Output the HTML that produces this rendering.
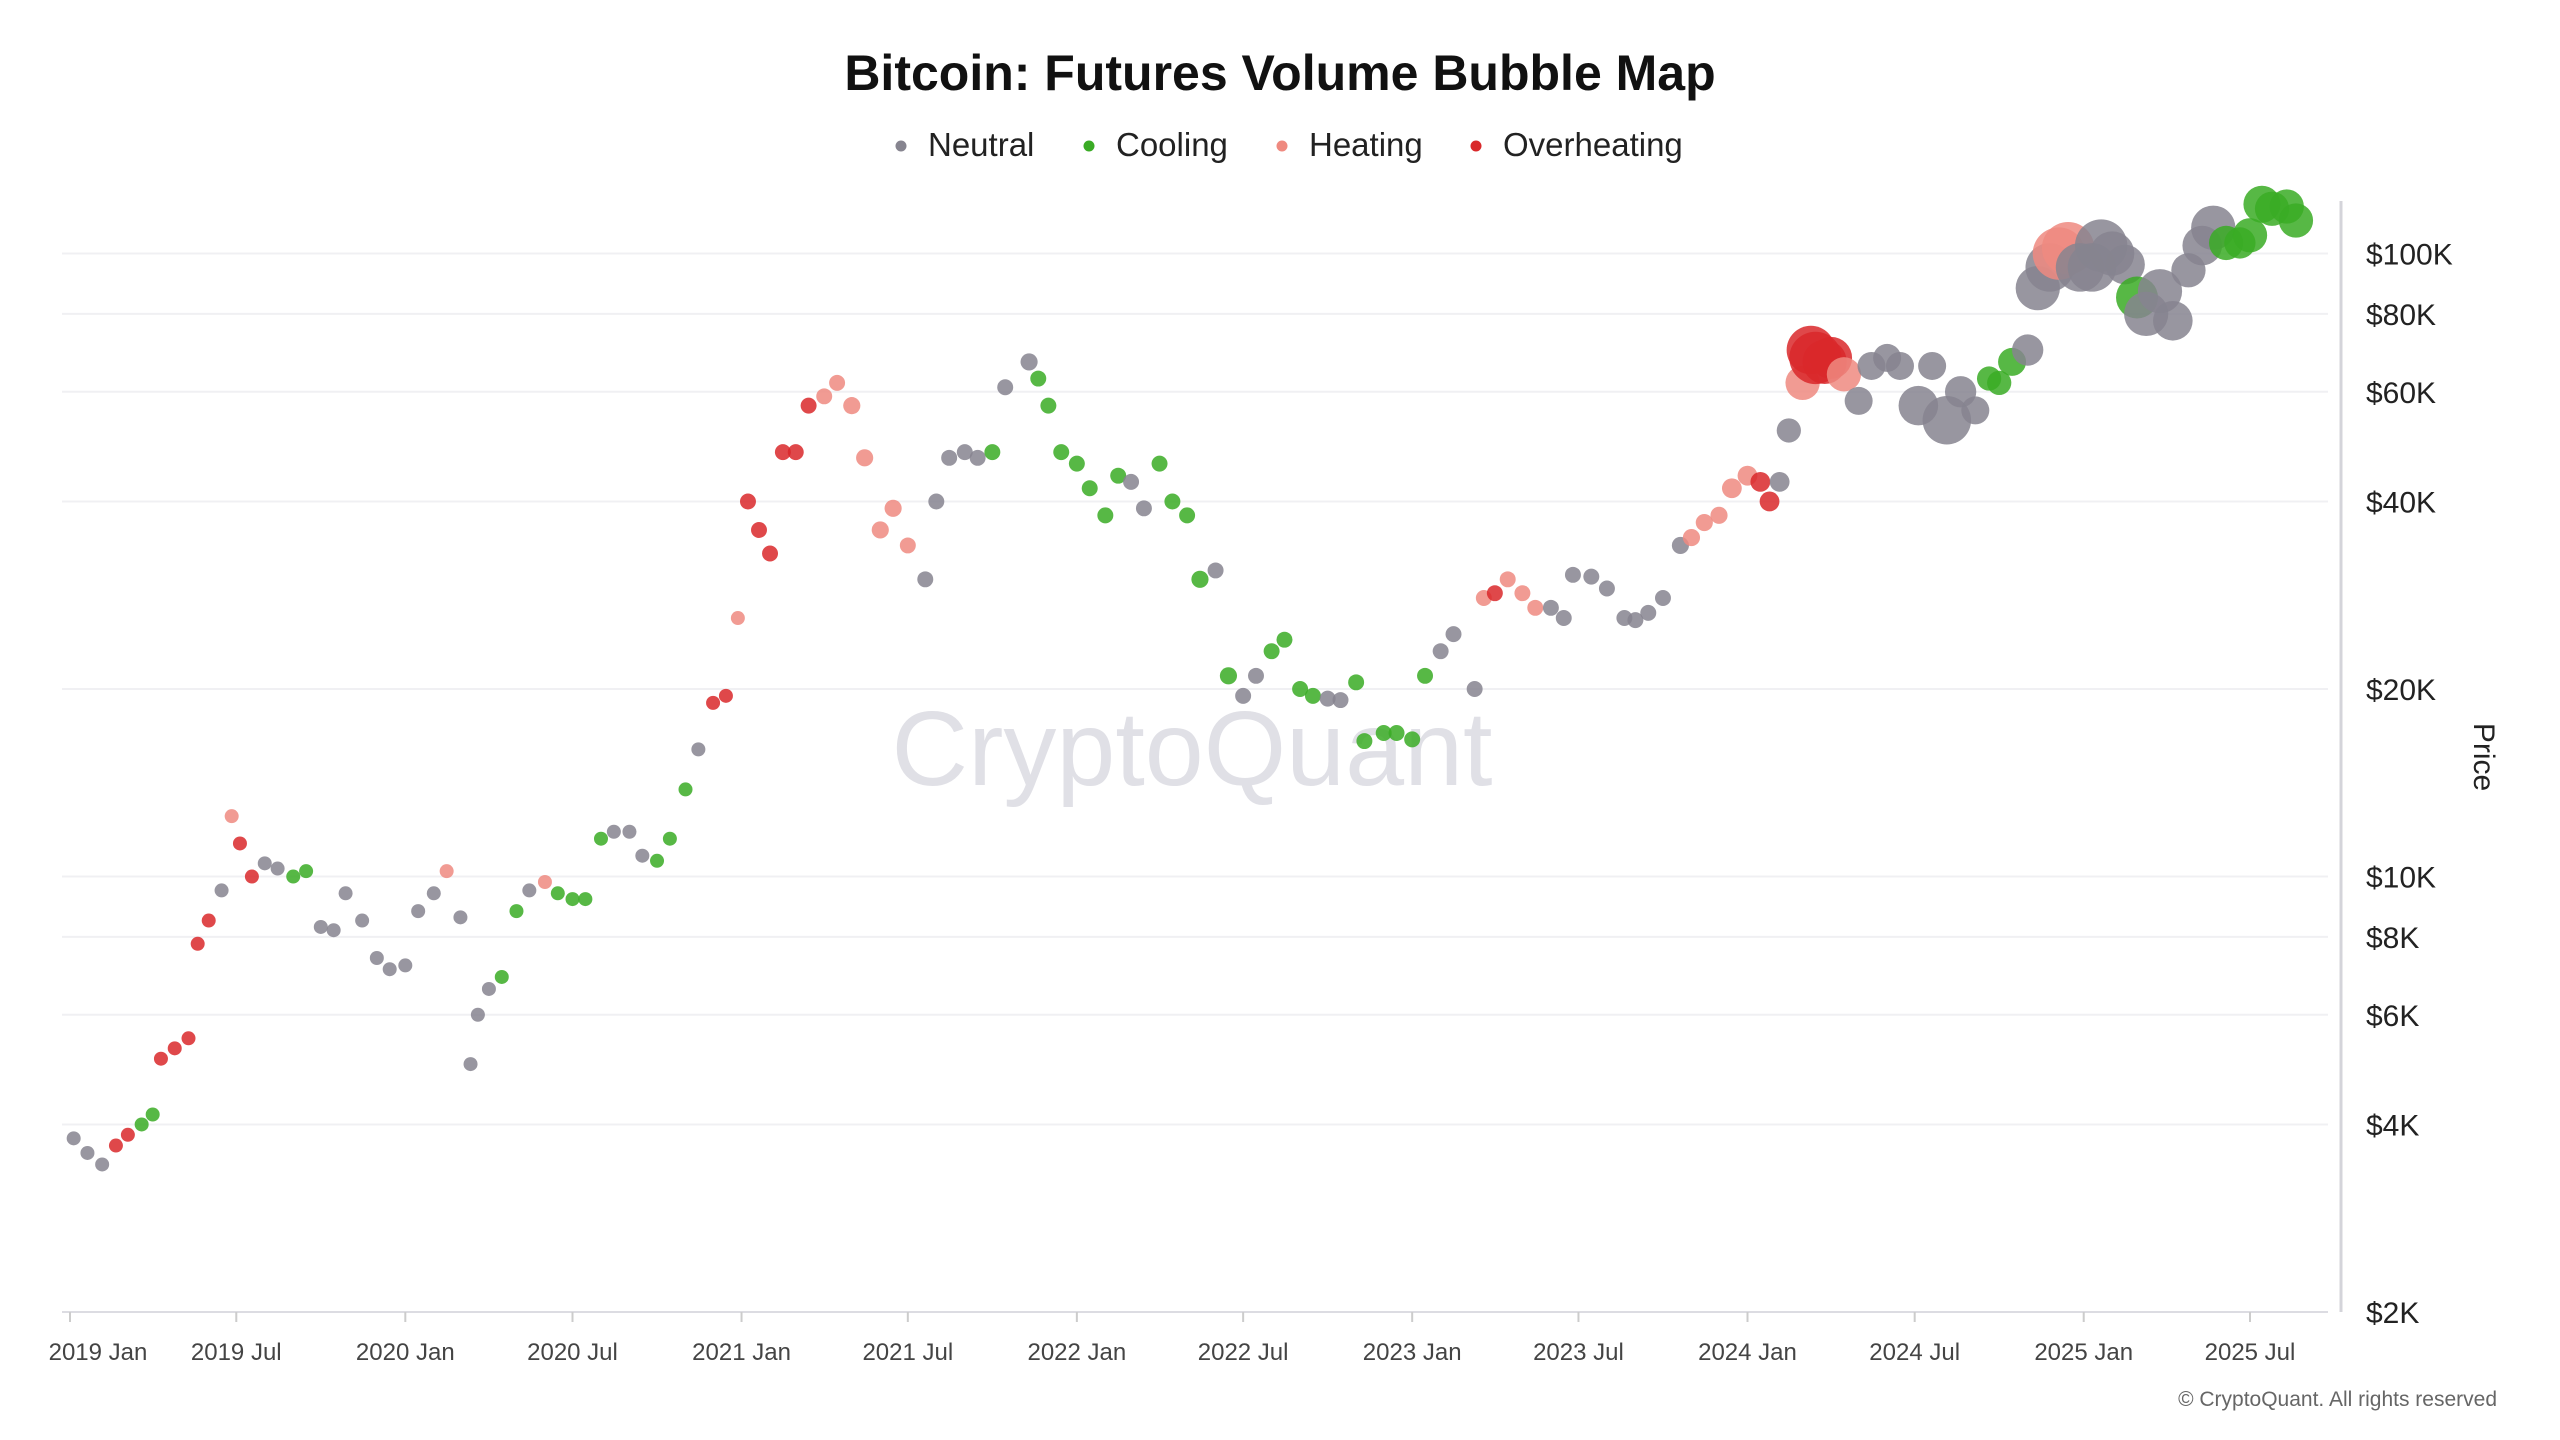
<!DOCTYPE html>
<html><head><meta charset="utf-8"><title>Bitcoin: Futures Volume Bubble Map</title>
<style>
html,body{margin:0;padding:0;background:#fff;}
body{width:2560px;height:1440px;overflow:hidden;font-family:"Liberation Sans",sans-serif;}
svg{display:block;}
</style></head>
<body>
<svg id="chart" width="2560" height="1440" viewBox="0 0 2560 1440" xmlns="http://www.w3.org/2000/svg">
  <text x="1280" y="90" text-anchor="middle" font-size="50" font-weight="bold" fill="#111">Bitcoin: Futures Volume Bubble Map</text>
  <g font-size="33" fill="#222">
    <g><circle cx="901" cy="146" r="5.5" fill="#86848f"/><text x="928" y="156">Neutral</text></g>
    <g><circle cx="1089" cy="146" r="5.5" fill="#3aab25"/><text x="1116" y="156">Cooling</text></g>
    <g><circle cx="1282" cy="146" r="5.5" fill="#ef8a80"/><text x="1309" y="156">Heating</text></g>
    <g><circle cx="1476" cy="146" r="5.5" fill="#d9282a"/><text x="1503" y="156">Overheating</text></g>
  </g>
  <g id="grid"></g>
  <text x="1192" y="785" text-anchor="middle" font-size="106" fill="#e0e0e6">CryptoQuant</text>
  <g id="bubbles"></g>
  <g id="xaxis"></g>
  <g id="yaxis"></g>
  <text transform="translate(2474,757) rotate(90)" text-anchor="middle" font-size="30" fill="#222">Price</text>
  <text x="2497" y="1406" text-anchor="end" font-size="21" fill="#666">© CryptoQuant. All rights reserved</text>
</svg>
<script>
const dates = ["2019-01-05","2019-01-20","2019-02-05","2019-02-20","2019-03-05","2019-03-20","2019-04-01","2019-04-10","2019-04-25","2019-05-10","2019-05-20","2019-06-01","2019-06-15","2019-06-26","2019-07-05","2019-07-18","2019-08-01","2019-08-15","2019-09-01","2019-09-15","2019-10-01","2019-10-15","2019-10-28","2019-11-15","2019-12-01","2019-12-15",
"2020-01-01","2020-01-15","2020-02-01","2020-02-15","2020-03-01","2020-03-12","2020-03-20","2020-04-01","2020-04-15","2020-05-01","2020-05-15","2020-06-01","2020-06-15","2020-07-01","2020-07-15","2020-08-01","2020-08-15","2020-09-01","2020-09-15","2020-10-01","2020-10-15","2020-11-01","2020-11-15","2020-12-01","2020-12-15","2020-12-28",
"2021-01-08","2021-01-20","2021-02-01","2021-02-15","2021-03-01","2021-03-15","2021-04-01","2021-04-15","2021-05-01","2021-05-15","2021-06-01","2021-06-15","2021-07-01","2021-07-20","2021-08-01","2021-08-15","2021-09-01","2021-09-15","2021-10-01","2021-10-15","2021-11-10","2021-11-20","2021-12-01","2021-12-15",
"2022-01-01","2022-01-15","2022-02-01","2022-02-15","2022-03-01","2022-03-15","2022-04-01","2022-04-15","2022-05-01","2022-05-15","2022-06-01","2022-06-15","2022-07-01","2022-07-15","2022-08-01","2022-08-15","2022-09-01","2022-09-15","2022-10-01","2022-10-15","2022-11-01","2022-11-10","2022-12-01","2022-12-15",
"2023-01-01","2023-01-15","2023-02-01","2023-02-15","2023-03-10","2023-03-20","2023-04-01","2023-04-15","2023-05-01","2023-05-15","2023-06-01","2023-06-15","2023-06-25","2023-07-15","2023-08-01","2023-08-20","2023-09-01","2023-09-15","2023-10-01","2023-10-20","2023-11-01","2023-11-15","2023-12-01","2023-12-15",
"2024-01-01","2024-01-15","2024-01-25","2024-02-05","2024-02-15","2024-03-01","2024-03-10","2024-03-15","2024-03-25","2024-04-01","2024-04-15","2024-05-01","2024-05-15","2024-06-01","2024-06-15","2024-07-05","2024-07-20","2024-08-05","2024-08-20","2024-09-05","2024-09-20","2024-10-01","2024-10-15","2024-11-01","2024-11-12","2024-11-25","2024-12-05","2024-12-15","2024-12-28",
"2025-01-10","2025-01-20","2025-02-01","2025-02-15","2025-02-28","2025-03-10","2025-03-25","2025-04-08","2025-04-25","2025-05-10","2025-05-22","2025-06-05","2025-06-20","2025-07-01","2025-07-14","2025-07-25","2025-08-10","2025-08-20"];
const prices = [3800,3600,3450,3700,3850,4000,4150,5100,5300,5500,7800,8500,9500,12500,11300,10000,10500,10300,10000,10200,8300,8200,9400,8500,7400,7100,
7200,8800,9400,10200,8600,5000,6000,6600,6900,8800,9500,9800,9400,9200,9200,11500,11800,11800,10800,10600,11500,13800,16000,19000,19500,26000,
40000,36000,33000,48000,48000,57000,59000,62000,57000,47000,36000,39000,34000,30000,40000,47000,48000,47000,48000,61000,67000,63000,57000,48000,
46000,42000,38000,44000,43000,39000,46000,40000,38000,30000,31000,21000,19500,21000,23000,24000,20000,19500,19300,19200,20500,16500,17000,17000,
16600,21000,23000,24500,20000,28000,28500,30000,28500,27000,27000,26000,30500,30300,29000,26000,25800,26500,28000,34000,35000,37000,38000,42000,
44000,43000,40000,43000,52000,62000,70000,68000,67000,68000,64000,58000,66000,68000,66000,57000,66000,54000,60000,56000,63000,62000,67000,70000,88000,95000,100000,102000,95000,
95000,103000,100000,96000,85000,80000,87000,78000,94000,103000,110000,104000,104000,107000,120000,118000,119000,113000];
const states = ["N","N","N","O","O","C","C","O","O","O","O","O","N","H","O","O","N","N","C","C","N","N","N","N","N","N",
"N","N","N","H","N","N","N","N","C","C","N","H","C","C","C","C","N","N","N","C","C","C","N","O","O","H",
"O","O","O","O","O","O","H","H","H","H","H","H","H","N","N","N","N","N","C","N","N","C","C","C",
"C","C","C","C","N","N","C","C","C","C","N","C","N","N","C","C","C","C","N","N","C","C","C","C",
"C","C","N","N","N","H","O","H","H","H","N","N","N","N","N","N","N","N","N","N","H","H","H","H",
"H","O","O","N","N","H","O","O","O","O","H","N","N","N","N","N","N","N","N","N","C","C","C","N","N","N","H","H","N",
"N","N","N","N","C","N","N","N","N","N","N","C","C","C","C","C","C","C"];
const volumes = [1,1,1,1,1,1,1,1,1,1,1,1,1,1,1,1,1,1,1,1,1,1,1,1,1,1,
1,1,1,1,1,1,1,1,1,1,1,1,1,1,1,1,1,1,1,1,1,1,1,1,1,1,
1.3,1.3,1.3,1.3,1.3,1.3,1.3,1.3,1.5,1.5,1.5,1.5,1.3,1.3,1.3,1.3,1.3,1.3,1.3,1.3,1.5,1.3,1.3,1.3,
1.3,1.3,1.3,1.3,1.3,1.3,1.3,1.3,1.3,1.5,1.3,1.5,1.3,1.3,1.3,1.3,1.3,1.3,1.3,1.3,1.3,1.3,1.3,1.3,
1.3,1.3,1.3,1.3,1.3,1.3,1.3,1.3,1.3,1.3,1.3,1.3,1.3,1.3,1.3,1.3,1.3,1.3,1.3,1.5,1.5,1.5,1.5,2,
2,2,2,2,3,6,12,14,10,9,6,4,4,4,4,8,4,12,5,4,3,3,4,5,10,12,14,14,12,
12,14,10,8,9,10,10,8,6,8,10,6,5,6,7,6,6,6];
const tickVals = [2000,4000,6000,8000,10000,20000,40000,60000,80000,100000];
const tickLabels = ["$2K","$4K","$6K","$8K","$10K","$20K","$40K","$60K","$80K","$100K"];
const xTickDates = ["2019-01-01","2019-07-01","2020-01-01","2020-07-01","2021-01-01","2021-07-01","2022-01-01","2022-07-01","2023-01-01","2023-07-01","2024-01-01","2024-07-01","2025-01-01","2025-07-01"];
const xTickLabels = ["2019 Jan","2019 Jul","2020 Jan","2020 Jul","2021 Jan","2021 Jul","2022 Jan","2022 Jul","2023 Jan","2023 Jul","2024 Jan","2024 Jul","2025 Jan","2025 Jul"];

const NS="http://www.w3.org/2000/svg";
const PL=62, PR=2328, PB=1312;
const t0=Date.UTC(2019,0,1), t1=Date.UTC(2025,6,1);
function xs(d){const t=Date.parse(d+"T00:00:00Z");return 70+(t-t0)/(t1-t0)*(2250-70);}
function ys(v){return 1312-(Math.log10(v)-Math.log10(2000))*623;}
const colors={N:"#86848f",C:"#3aab25",H:"#ef8a80",O:"#d9282a"};
const names={N:"neutral",C:"cooling",H:"heating",O:"overheating"};
function mk(tag,attrs,parent){const e=document.createElementNS(NS,tag);for(const k in attrs)e.setAttribute(k,attrs[k]);parent.appendChild(e);return e;}

const grid=document.getElementById('grid');
const yaxis=document.getElementById('yaxis');
tickVals.forEach((v,i)=>{
  const y=ys(v);
  if(i>0){const l=mk('line',{x1:PL,x2:PR,y1:y,y2:y,stroke:"#f0f0f3","stroke-width":2},grid);
  
  }
  const t=mk('text',{x:2366,y:y+11,"font-size":30,fill:"#222"},yaxis);
  t.textContent=tickLabels[i];
  
  
});
const ya=mk('line',{x1:2341,x2:2341,y1:201,y2:1312,stroke:"#d4d4da","stroke-width":3},yaxis);



const xaxis=document.getElementById('xaxis');
const xa=mk('line',{x1:PL,x2:PR,y1:PB,y2:PB,stroke:"#dcdce2","stroke-width":2},xaxis);


xTickDates.forEach((d,i)=>{
  const x=xs(d);
  const tk=mk('line',{x1:x,x2:x,y1:PB,y2:PB+10,stroke:"#ccc","stroke-width":2},xaxis);
  
  
  const cx=Math.max(x,98);
  const t=mk('text',{x:cx,y:1360,"text-anchor":"middle","font-size":24,fill:"#444"},xaxis);
  t.textContent=xTickLabels[i];
  
  
});

const bub=document.getElementById('bubbles');
dates.forEach((d,i)=>{
  const c=mk('circle',{cx:xs(d),cy:ys(prices[i]),r:7*Math.sqrt(volumes[i]),fill:colors[states[i]],"fill-opacity":0.85},bub);
  
  
});
</script>
</body></html>
